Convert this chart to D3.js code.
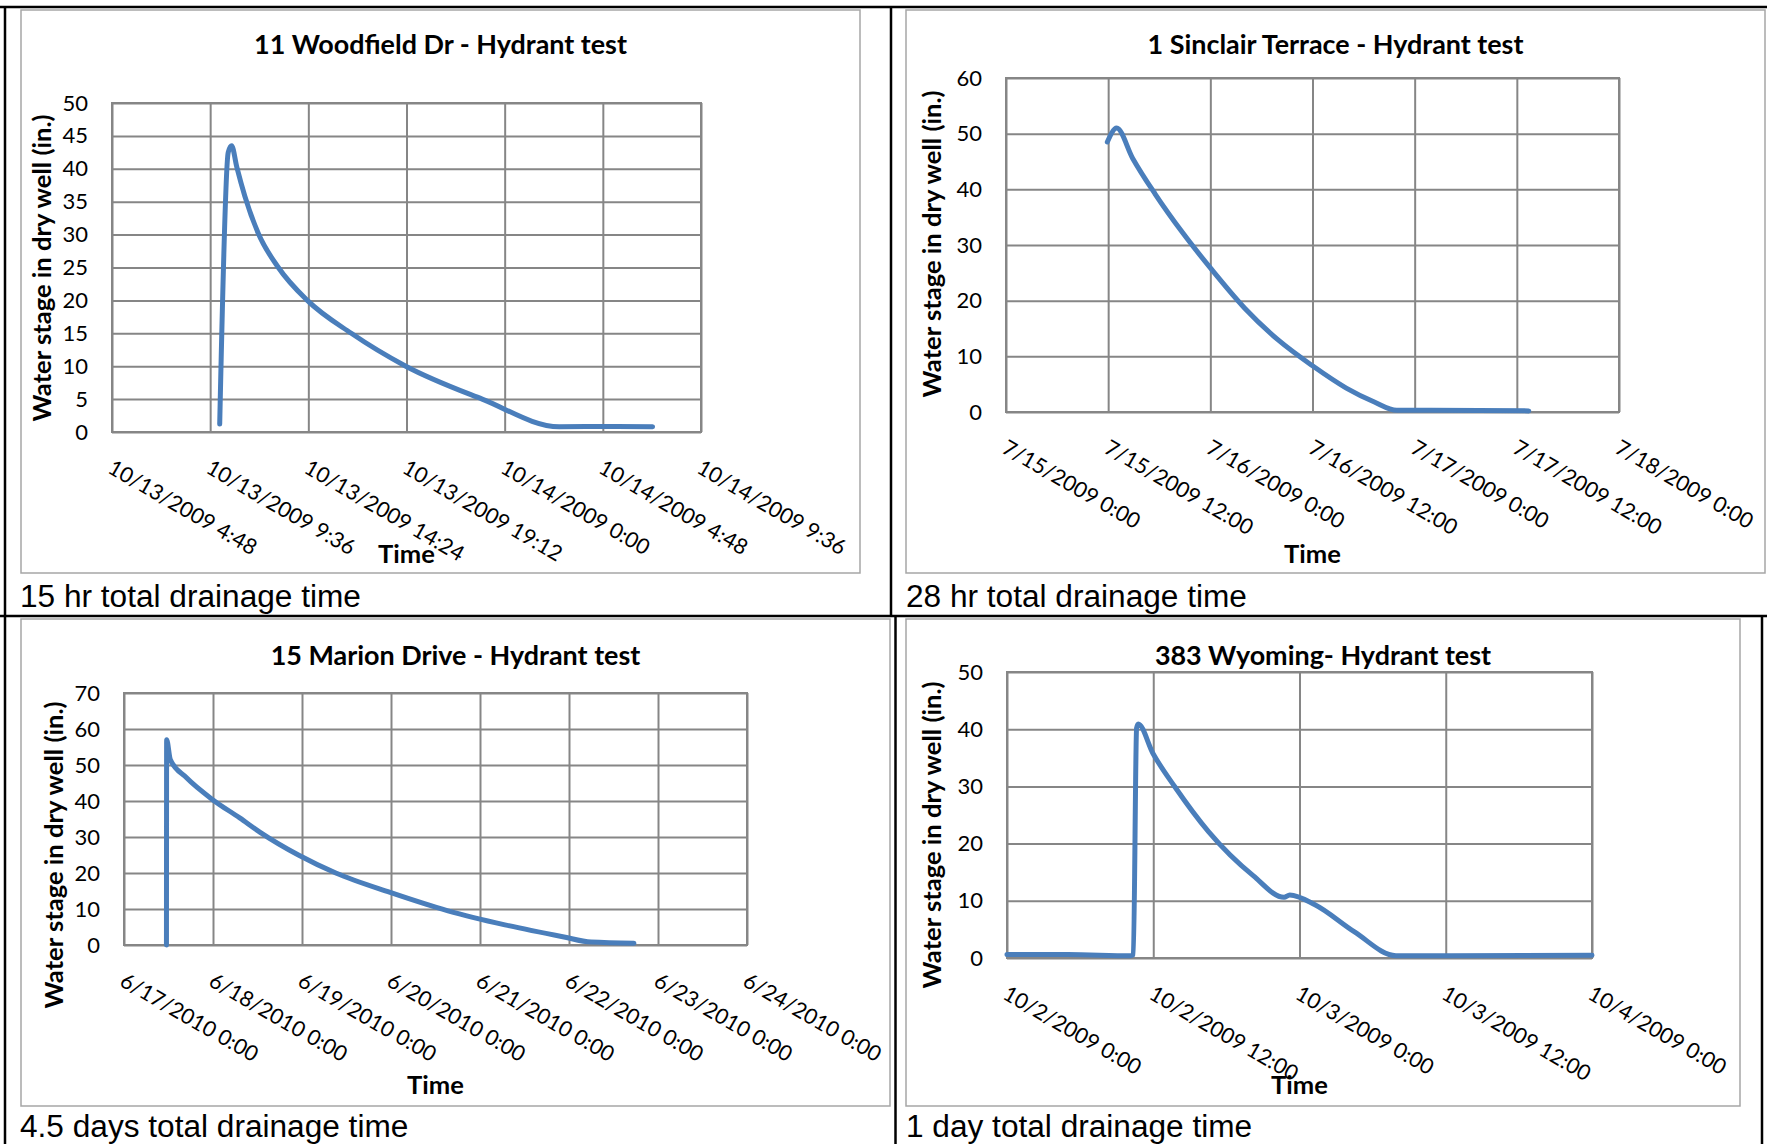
<!DOCTYPE html>
<html><head><meta charset="utf-8">
<script src="https://cdn.jsdelivr.net/npm/d3@7"></script>
<style>html,body{margin:0;padding:0;background:#fff;} svg{display:block;}</style>
</head><body><svg id="c" width="1767" height="1144"></svg>
<script>
// ---------------- DATA ----------------
const titles = ["11 Woodfield Dr - Hydrant test", "1 Sinclair Terrace - Hydrant test",
                "15 Marion Drive - Hydrant test", "383 Wyoming- Hydrant test"];
const captions = ["15 hr total drainage time", "28 hr total drainage time",
                  "4.5 days total drainage time", "1 day total drainage time"];
const yAxisTitle = "Water stage in dry well (in.)";
const xAxisTitle = "Time";

const xTicks1 = ["10/13/2009 4:48","10/13/2009 9:36","10/13/2009 14:24","10/13/2009 19:12","10/14/2009 0:00","10/14/2009 4:48","10/14/2009 9:36"];
const yTicks1 = [0,5,10,15,20,25,30,35,40,45,50];
const times1 = ["10/13/2009 10:04","10/13/2009 10:29","10/13/2009 10:39","10/13/2009 10:54","10/13/2009 11:18","10/13/2009 11:57","10/13/2009 12:56","10/13/2009 14:21","10/13/2009 16:30","10/13/2009 19:10","10/13/2009 22:54","10/14/2009 2:40","10/14/2009 5:00","10/14/2009 7:14"];
const values1 = [1.2,42.5,43.5,40.3,35.8,30.2,25.0,20.0,15.0,10.0,5.0,0.8,0.85,0.8];

const xTicks2 = ["7/15/2009 0:00","7/15/2009 12:00","7/16/2009 0:00","7/16/2009 12:00","7/17/2009 0:00","7/17/2009 12:00","7/18/2009 0:00"];
const yTicks2 = [0,10,20,30,40,50,60];
const times2 = ["7/15/2009 11:54","7/15/2009 13:00","7/15/2009 14:52","7/15/2009 17:30","7/15/2009 20:48","7/16/2009 0:06","7/16/2009 4:04","7/16/2009 8:00","7/16/2009 12:00","7/16/2009 15:58","7/16/2009 19:16","7/16/2009 21:54","7/17/2009 2:00","7/17/2009 13:24"];
const values2 = [48.5,51.0,45.6,39.2,32.1,25.7,18.6,12.9,8.3,4.3,1.8,0.3,0.3,0.2];

const xTicks3 = ["6/17/2010 0:00","6/18/2010 0:00","6/19/2010 0:00","6/20/2010 0:00","6/21/2010 0:00","6/22/2010 0:00","6/23/2010 0:00","6/24/2010 0:00"];
const yTicks3 = [0,10,20,30,40,50,60,70];
const times3 = ["6/17/2010 11:27","6/17/2010 11:30","6/17/2010 12:29","6/17/2010 16:48","6/18/2010 0:00","6/18/2010 7:12","6/18/2010 12:43","6/18/2010 23:02","6/19/2010 9:07","6/19/2010 23:46","6/20/2010 15:22","6/21/2010 6:43","6/21/2010 22:19","6/22/2010 6:00","6/22/2010 17:31"];
const values3 = [0,57,51.5,46.5,40.3,35.3,31.3,25.0,20.0,14.6,9.5,5.6,2.3,0.8,0.5];

const xTicks4 = ["10/2/2009 0:00","10/2/2009 12:00","10/3/2009 0:00","10/3/2009 12:00","10/4/2009 0:00"];
const yTicks4 = [0,10,20,30,40,50];
const times4 = ["10/2/2009 0:00","10/2/2009 5:00","10/2/2009 10:08","10/2/2009 10:22","10/2/2009 10:38","10/2/2009 10:46","10/2/2009 11:58","10/2/2009 13:47","10/2/2009 16:32","10/2/2009 20:12","10/2/2009 22:44","10/2/2009 23:12","10/3/2009 1:16","10/3/2009 4:29","10/3/2009 7:55","10/4/2009 0:00"];
const values4 = [0.6,0.6,0.4,0.6,40.2,40.9,35.8,29.9,22.1,14.4,10.6,11.0,9.3,4.6,0.4,0.5];

// ---------------- LAYOUT ----------------
const layouts = [
  {box:[21,10,839,563], plot:[112,701,103,432], titleY:54, timeY:563, yT:[51,268], cap:[20,607]},
  {box:[906,10,859,563], plot:[1006,1619,78,412], titleY:54, timeY:563, yT:[941,244], cap:[906,607]},
  {box:[21,619,869,487], plot:[124,747,693,945], titleY:664.5, timeY:1094, yT:[63,855], cap:[20,1137]},
  {box:[906,619,834,487], plot:[1007,1592,672,958], titleY:664.5, timeY:1094, yT:[941,835], cap:[906,1137]}
];

const svg = d3.select("#c");
const parseT = d3.timeParse("%m/%d/%Y %H:%M");
const LABEL_FONT = "Lato, 'Open Sans', sans-serif";
const CAP_FONT = "'Liberation Sans', Arial, sans-serif";
const GRID = "#868686";
const LINE = "#4a7ebb";

function fitSize(str, weight, family, target) {
  const t = svg.append("text").attr("font-family", family).attr("font-weight", weight)
    .attr("font-size", 40).text(str);
  const w = t.node().getComputedTextLength();
  t.remove();
  return 40 * target / w;
}
const titleFS = fitSize(titles[0], "bold", LABEL_FONT, 373);
const axisFS = fitSize(yAxisTitle, "bold", LABEL_FONT, 307);
const capFS = fitSize(captions[0], "normal", CAP_FONT, 341);
const yTickFS = 22;
const xTickFS = 21.5;

// table lines
const tbl = svg.append("g").attr("stroke", "#000").attr("stroke-width", 2.5);
[[0,7,1767,7],[0,616,1767,616],[5,7,5,1144],[891,7,891,616],[895.5,616,895.5,1144],[1762,616,1762,1144]]
  .forEach(s => tbl.append("line").attr("x1",s[0]).attr("y1",s[1]).attr("x2",s[2]).attr("y2",s[3]));

const charts = [
  {xt:xTicks1, yt:yTicks1, tm:times1, v:values1},
  {xt:xTicks2, yt:yTicks2, tm:times2, v:values2},
  {xt:xTicks3, yt:yTicks3, tm:times3, v:values3},
  {xt:xTicks4, yt:yTicks4, tm:times4, v:values4}
];

charts.forEach((c, i) => {
  const L = layouts[i];
  const [l, r, t, b] = L.plot;
  const g = svg.append("g");
  g.append("rect").attr("x", L.box[0]).attr("y", L.box[1]).attr("width", L.box[2]).attr("height", L.box[3])
    .attr("fill", "#fff").attr("stroke", "#a6a6a6").attr("stroke-width", 1.5);

  const xDates = c.xt.map(parseT);
  const x = d3.scaleTime().domain([xDates[0], xDates[xDates.length - 1]]).range([l, r]);
  const y = d3.scaleLinear().domain([0, c.yt[c.yt.length - 1]]).range([b, t]);

  // y axis + horizontal grid
  const ya = g.append("g").attr("transform", `translate(${l},0)`)
    .call(d3.axisLeft(y).tickValues(c.yt).tickSize(-(r - l)).tickPadding(24).tickFormat(d3.format("d")));
  ya.select(".domain").remove();
  ya.selectAll("line").attr("stroke", GRID).attr("stroke-width", 2);
  ya.selectAll("text").attr("font-family", LABEL_FONT).attr("font-size", yTickFS).attr("fill", "#000");

  // x axis + vertical grid
  const xa = g.append("g").attr("transform", `translate(0,${b})`)
    .call(d3.axisBottom(x).tickValues(xDates).tickSize(-(b - t)).tickFormat((d, k) => c.xt[k]));
  xa.select(".domain").remove();
  xa.selectAll("line").attr("stroke", GRID).attr("stroke-width", 2);
  xa.selectAll("text").attr("font-family", LABEL_FONT).attr("font-size", xTickFS).attr("fill", "#000")
    .attr("x", 0).attr("y", 0).attr("dy", null).attr("text-anchor", "start")
    .attr("transform", "translate(-6,40) rotate(30)");

  g.append("rect").attr("x", l).attr("y", t).attr("width", r - l).attr("height", b - t)
    .attr("fill", "none").attr("stroke", GRID).attr("stroke-width", 2);

  // series
  const pts = c.tm.map((s, k) => ({t: parseT(s), v: c.v[k]}));
  g.append("path").datum(pts)
    .attr("d", d3.line().x(d => x(d.t)).y(d => y(d.v)).curve(d3.curveMonotoneX))
    .attr("fill", "none").attr("stroke", LINE).attr("stroke-width", 5)
    .attr("stroke-linecap", "round").attr("stroke-linejoin", "round");

  // texts
  g.append("text").attr("x", L.box[0] + L.box[2] / 2).attr("y", L.titleY).attr("text-anchor", "middle")
    .attr("font-family", LABEL_FONT).attr("font-weight", "bold").attr("font-size", titleFS).text(titles[i]);
  g.append("text").attr("x", (l + r) / 2).attr("y", L.timeY).attr("text-anchor", "middle")
    .attr("font-family", LABEL_FONT).attr("font-weight", "bold").attr("font-size", axisFS).text(xAxisTitle);
  g.append("text").attr("transform", `translate(${L.yT[0]},${L.yT[1]}) rotate(-90)`).attr("text-anchor", "middle")
    .attr("font-family", LABEL_FONT).attr("font-weight", "bold").attr("font-size", axisFS).text(yAxisTitle);
  svg.append("text").attr("x", L.cap[0]).attr("y", L.cap[1])
    .attr("font-family", CAP_FONT).attr("font-size", capFS).attr("fill", "#000").text(captions[i]);
});
</script></body></html>
